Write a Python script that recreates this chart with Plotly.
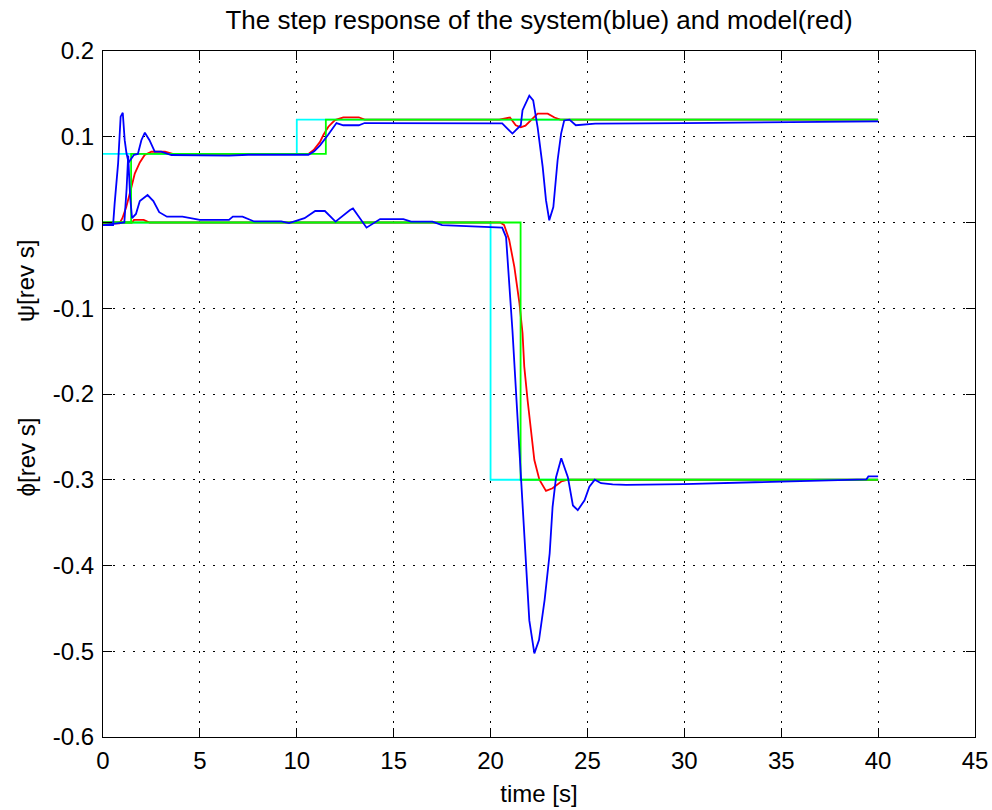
import plotly.graph_objects as go

# ---- reference signals (step commands) ----
psi_ref_t = [0, 10, 40]
psi_ref = [0.08, 0.12, 0.12]
phi_ref_t = [0, 20, 40]
phi_ref = [0, -0.3, -0.3]

# delayed references
psi_del_t = [0, 1.45, 11.5, 40]
psi_del = [0, 0.08, 0.12, 0.12]
phi_del_t = [0, 21.55, 40]
phi_del = [0, -0.3, -0.3]

# ---- model response (red) ----
psi_model_t = [0, 0.85, 1.0, 1.2, 1.43, 1.64, 1.9, 2.15, 2.5, 3.2, 3.6, 10.6, 10.87, 11.2,
               11.37, 11.63, 11.97, 12.4, 13.2, 13.5, 20.45, 21.0, 21.3, 21.56, 21.8, 22.08,
               22.43, 22.95, 23.3, 23.6, 40]
psi_model = [-0.001, -0.001, 0.005, 0.018, 0.038, 0.057, 0.07, 0.0787, 0.0825, 0.0825, 0.08,
             0.08, 0.0845, 0.094, 0.102, 0.1117, 0.1195, 0.1227, 0.1227, 0.12, 0.12, 0.1224,
             0.1134, 0.111, 0.113, 0.119, 0.127, 0.127, 0.1224, 0.12, 0.12]

phi_model_t = [0, 1.5, 1.6, 2.1, 2.4, 20.5, 20.7, 20.96, 21.23, 21.49, 21.65, 21.74, 21.91,
               22.08, 22.26, 22.52, 22.86, 23.2, 23.65, 24.0, 40]
phi_model = [0, 0, 0.003, 0.003, 0, 0, -0.003, -0.02, -0.052, -0.094, -0.129, -0.168, -0.207,
             -0.242, -0.277, -0.3, -0.313, -0.31, -0.302, -0.3, -0.3]

# ---- measured system response (blue) ----
psi_sys_t = [0, 0.52, 0.6, 0.78, 0.91, 1.02, 1.12, 1.21, 1.32, 1.45, 1.6, 1.8, 1.98, 2.16,
             2.4, 2.67, 3.0, 3.53, 4.5, 5.5, 6.5, 7.5, 8.5, 9.5, 10.6, 10.9, 11.2, 11.6,
             12.05, 12.4, 13.2, 13.5, 17.0, 20.6, 21.13, 21.56, 21.65, 22.0, 22.2, 22.43,
             22.69, 22.86, 23.03, 23.24, 23.46, 23.64, 23.8, 24.07, 24.4, 25.4, 30.0, 35.0,
             40.0]
psi_sys = [-0.003, -0.003, 0.022, 0.069, 0.1234, 0.128, 0.096, 0.081, 0.07, 0.074, 0.079,
           0.08, 0.096, 0.1047, 0.096, 0.0826, 0.0826, 0.0787, 0.0785, 0.079, 0.078, 0.079,
           0.079, 0.079, 0.079, 0.083, 0.09, 0.1017, 0.116, 0.1134, 0.1134, 0.116, 0.1155,
           0.1155, 0.1037, 0.1134, 0.131, 0.148, 0.1425, 0.111, 0.0648, 0.026, 0.0026, 0.018,
           0.0726, 0.1037, 0.119, 0.12, 0.1134, 0.1154, 0.1158, 0.1165, 0.118]

phi_sys_t = [0, 1.1, 1.22, 1.3, 1.4, 1.5, 1.7, 1.9, 2.3, 2.6, 2.9, 3.3, 4.1, 5.0, 6.5, 6.7,
             7.2, 7.8, 9.2, 9.6, 10.4, 10.95, 11.45, 12.0, 12.75, 12.9, 13.6, 14.3, 15.5,
             15.9, 17.0, 17.5, 20.6, 20.8, 21.13, 21.4, 21.58, 21.65, 21.82, 22.0, 22.26,
             22.5, 22.79, 23.05, 23.2, 23.38, 23.65, 23.99, 24.25, 24.5, 24.85, 25.1, 25.38,
             25.7, 26.3, 27.0, 30.0, 34.0, 37.0, 39.4, 39.5, 40.0]
phi_sys = [-0.003, 0.0, 0.04, 0.078, 0.03, 0.005, 0.01, 0.025, 0.032, 0.025, 0.012, 0.0068,
           0.0068, 0.003, 0.003, 0.0068, 0.0068, 0.0012, 0.0012, -0.0008, 0.005, 0.0134,
           0.0134, 0.001, 0.0146, 0.0163, -0.006, 0.004, 0.004, 0.001, 0.001, -0.003, -0.006,
           -0.017, -0.126, -0.227, -0.297, -0.324, -0.398, -0.464, -0.5025, -0.487, -0.44,
           -0.386, -0.332, -0.297, -0.275, -0.297, -0.33, -0.3355, -0.324, -0.308, -0.3,
           -0.304, -0.3055, -0.306, -0.305, -0.303, -0.301, -0.2995, -0.296, -0.296]

# ---- axes ----
x_tick_vals = [0, 5, 10, 15, 20, 25, 30, 35, 40, 45]
x_tick_text = ["0", "5", "10", "15", "20", "25", "30", "35", "40", "45"]
y_tick_vals = [-0.6, -0.5, -0.4, -0.3, -0.2, -0.1, 0, 0.1, 0.2]
y_tick_text = ["-0.6", "-0.5", "-0.4", "-0.3", "-0.2", "-0.1", "0", "0.1", "0.2"]

BLUE = "rgb(0,0,255)"
RED = "rgb(255,0,0)"
GREEN = "rgb(0,255,0)"
CYAN = "rgb(0,255,255)"
LW = 1.8
FONT = "Liberation Sans, Arial, sans-serif"

fig = go.Figure()
fig.add_trace(go.Scatter(x=psi_ref_t, y=psi_ref, mode="lines", line=dict(color=CYAN, width=LW, shape="hv")))
fig.add_trace(go.Scatter(x=phi_ref_t, y=phi_ref, mode="lines", line=dict(color=CYAN, width=LW, shape="hv")))
fig.add_trace(go.Scatter(x=psi_model_t, y=psi_model, mode="lines", line=dict(color=RED, width=LW)))
fig.add_trace(go.Scatter(x=phi_model_t, y=phi_model, mode="lines", line=dict(color=RED, width=LW)))
fig.add_trace(go.Scatter(x=psi_del_t, y=psi_del, mode="lines", line=dict(color=GREEN, width=LW, shape="hv")))
fig.add_trace(go.Scatter(x=phi_del_t, y=phi_del, mode="lines", line=dict(color=GREEN, width=LW, shape="hv")))
fig.add_trace(go.Scatter(x=psi_sys_t, y=psi_sys, mode="lines", line=dict(color=BLUE, width=LW)))
fig.add_trace(go.Scatter(x=phi_sys_t, y=phi_sys, mode="lines", line=dict(color=BLUE, width=LW)))

axis_common = dict(
    showline=True, linecolor="black", linewidth=1, mirror="ticks",
    ticks="inside", ticklen=9, tickcolor="black", tickwidth=1,
    showgrid=True, gridcolor="black", gridwidth=1.3, griddash="2px,8px",
    zeroline=False, automargin=False,
    tickfont=dict(family=FONT, size=24, color="black"),
)

fig.update_xaxes(range=[0, 45], tickvals=x_tick_vals, ticktext=x_tick_text,
                 ticklabelstandoff=2,
                 title=dict(text="time [s]", font=dict(family=FONT, size=24, color="black"),
                            standoff=12),
                 **axis_common)
fig.update_yaxes(range=[-0.6, 0.2], tickvals=y_tick_vals, ticktext=y_tick_text,
                 ticklabelstandoff=3, **axis_common)

# stacked y-axis labels (rotated)
fig.add_annotation(text="ψ[rev s]", textangle=-90, xref="paper", yref="paper",
                   x=-0.088, y=0.665, xanchor="center", yanchor="middle", showarrow=False,
                   font=dict(family=FONT, size=24, color="black"))
fig.add_annotation(text="ϕ[rev s]", textangle=-90, xref="paper", yref="paper",
                   x=-0.088, y=0.408, xanchor="center", yanchor="middle", showarrow=False,
                   font=dict(family=FONT, size=24, color="black"))

fig.update_layout(
    width=992, height=810,
    margin=dict(l=103, r=17, t=51, b=73, autoexpand=False),
    paper_bgcolor="white", plot_bgcolor="white",
    showlegend=False,
    title=dict(text="The step response of the system(blue) and model(red)",
               x=0.5, xref="paper", xanchor="center", y=0.975, yanchor="middle",
               font=dict(family=FONT, size=26, color="black")),
)

fig.write_html("out.html")
